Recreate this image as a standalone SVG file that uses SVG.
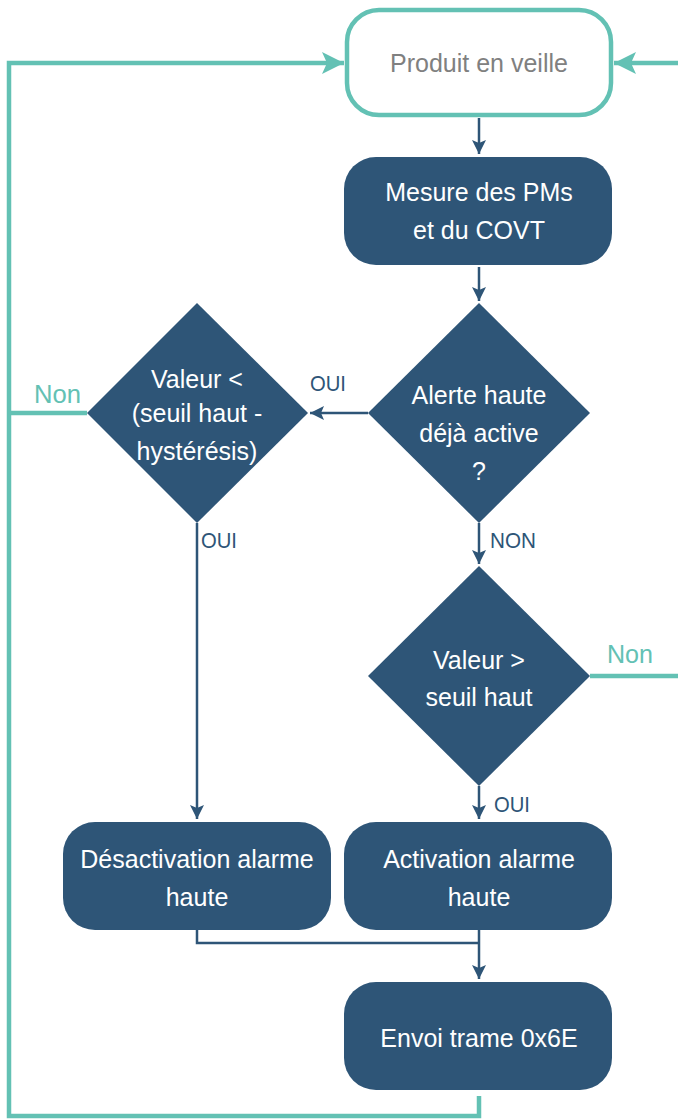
<svg xmlns="http://www.w3.org/2000/svg" width="678" height="1119" viewBox="0 0 678 1119">
<style>
.box{fill:#2e5577;}
.dia{fill:#2e5577;}
.t{font-family:"Liberation Sans",Arial,sans-serif;font-size:25px;fill:#ffffff;text-anchor:middle;}
.g{fill:#808080;}
.lbl{font-family:"Liberation Sans",Arial,sans-serif;font-size:22px;fill:#2e5577;}
.non{font-family:"Liberation Sans",Arial,sans-serif;font-size:25px;fill:#63c1b4;}
.dl{fill:none;stroke:#2e5577;stroke-width:2.5;}
.tl{fill:none;stroke:#63c1b4;stroke-width:4.5;}
</style>
<defs>
<marker id="ad" markerUnits="userSpaceOnUse" markerWidth="16" markerHeight="14" refX="14" refY="7" orient="auto">
<path d="M0,0 L14,7 L0,14 L3,7 Z" fill="#2e5577"/>
</marker>
<marker id="at" markerUnits="userSpaceOnUse" markerWidth="24" markerHeight="24" refX="22" refY="12" orient="auto">
<path d="M0,1 L22,12 L0,23 L5,12 Z" fill="#63c1b4"/>
</marker>
</defs>
<g id="connectors">
<path class="dl" d="M479,118 V154" marker-end="url(#ad)"/>
<path class="dl" d="M479,267 V301" marker-end="url(#ad)"/>
<path class="dl" d="M368,413 H310" marker-end="url(#ad)"/>
<path class="dl" d="M479,523 V564" marker-end="url(#ad)"/>
<path class="dl" d="M197,523 V819" marker-end="url(#ad)"/>
<path class="dl" d="M479,786 V819" marker-end="url(#ad)"/>
<path class="dl" d="M197,930 V943 H479"/>
<path class="dl" d="M479,930 V979" marker-end="url(#ad)"/>
<path class="tl" d="M479,1096 V1116 H9 V63 H344" marker-end="url(#at)"/>
<path class="tl" d="M87,413 H9"/>
<path class="tl" d="M590,676 H678"/>
<path class="tl" d="M678,63 H614" marker-end="url(#at)"/>
<text class="lbl" x="310" y="391" textLength="36" lengthAdjust="spacingAndGlyphs">OUI</text>
<text class="lbl" x="201" y="548" textLength="36" lengthAdjust="spacingAndGlyphs">OUI</text>
<text class="lbl" x="490" y="548" textLength="46" lengthAdjust="spacingAndGlyphs">NON</text>
<text class="lbl" x="494" y="812" textLength="36" lengthAdjust="spacingAndGlyphs">OUI</text>
<text class="non" x="34" y="403" textLength="47" lengthAdjust="spacingAndGlyphs">Non</text>
<text class="non" x="607" y="663" textLength="46" lengthAdjust="spacingAndGlyphs">Non</text>
</g>
<g id="veille">
<rect x="347" y="10" width="264" height="105" rx="32" fill="#ffffff" stroke="#63c1b4" stroke-width="4.5"/>
<text class="t g" x="479" y="72">Produit en veille</text>
</g>
<g id="mesure">
<rect class="box" x="344" y="157" width="268" height="108" rx="32"/>
<text class="t" x="479" y="201">Mesure des PMs</text>
<text class="t" x="479" y="239">et du COVT</text>
</g>
<g id="alerte">
<polygon class="dia" points="479,303 590,413 479,523 368,413"/>
<text class="t" x="479" y="404">Alerte haute</text>
<text class="t" x="479" y="442">déjà active</text>
<text class="t" x="479" y="480">?</text>
</g>
<g id="hysteresis">
<polygon class="dia" points="197,303 308,413 197,523 87,413"/>
<text class="t" x="197" y="388">Valeur &lt;</text>
<text class="t" x="197" y="422">(seuil haut -</text>
<text class="t" x="197" y="460">hystérésis)</text>
</g>
<g id="seuil">
<polygon class="dia" points="479,566 590,676 479,786 368,676"/>
<text class="t" x="479" y="669">Valeur &gt;</text>
<text class="t" x="479" y="706">seuil haut</text>
</g>
<g id="desactivation">
<rect class="box" x="63" y="822" width="268" height="108" rx="32"/>
<text class="t" x="197" y="868">Désactivation alarme</text>
<text class="t" x="197" y="906">haute</text>
</g>
<g id="activation">
<rect class="box" x="344" y="822" width="268" height="108" rx="32"/>
<text class="t" x="479" y="868">Activation alarme</text>
<text class="t" x="479" y="906">haute</text>
</g>
<g id="envoi">
<rect class="box" x="344" y="982" width="268" height="108" rx="32"/>
<text class="t" x="479" y="1047">Envoi trame 0x6E</text>
</g>
</svg>
